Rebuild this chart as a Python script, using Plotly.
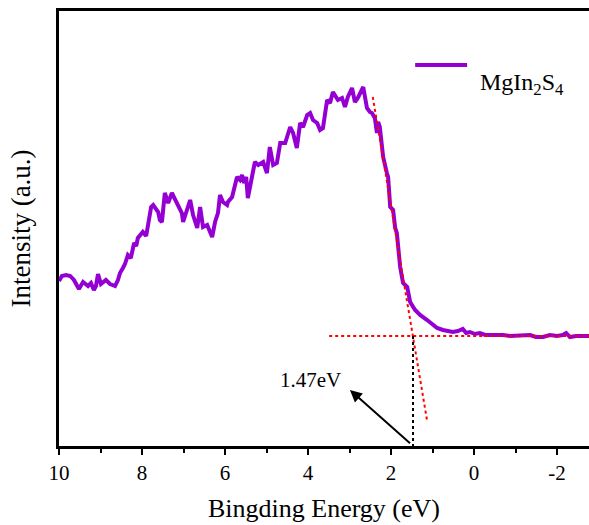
import plotly.graph_objects as go

# Binding energy (eV) and intensity (a.u.)
energy = [10.00, 9.93, 9.83, 9.73, 9.64, 9.52, 9.42, 9.35, 9.30, 9.23, 9.16, 9.11, 9.06, 8.99, 8.92,
          8.87, 8.77, 8.65, 8.58, 8.53, 8.46, 8.41, 8.34, 8.27, 8.19, 8.14, 8.10, 8.02, 7.98, 7.90,
          7.83, 7.78, 7.73, 7.69, 7.61, 7.57, 7.52, 7.45, 7.37, 7.28, 7.20, 7.13, 7.04, 7.01, 6.92,
          6.84, 6.77, 6.67, 6.60, 6.53, 6.43, 6.36, 6.31, 6.24, 6.17, 6.12, 6.05, 5.95, 5.93, 5.83,
          5.76, 5.71, 5.64, 5.59, 5.54, 5.49, 5.45, 5.35, 5.28, 5.20, 5.08, 4.99, 4.92, 4.84, 4.75,
          4.67, 4.55, 4.43, 4.36, 4.27, 4.19, 4.12, 4.02, 3.95, 3.88, 3.78, 3.71, 3.64, 3.54, 3.47,
          3.40, 3.28, 3.18, 3.11, 3.04, 2.94, 2.87, 2.80, 2.70, 2.67, 2.58, 2.51, 2.46, 2.39, 2.34,
          2.31, 2.27, 2.19, 2.10, 2.07, 2.02, 1.95, 1.90, 1.86, 1.78, 1.71, 1.61, 1.54, 1.42, 1.30,
          1.13, 0.99, 0.89, 0.75, 0.63, 0.51, 0.39, 0.27, 0.19, 0.10, -0.02, -0.14, -0.27, -0.39,
          -0.53, -0.70, -0.87, -1.04, -1.18, -1.35, -1.49, -1.66, -1.83, -2.00, -2.14, -2.22, -2.31,
          -2.46, -2.63, -2.77]
intensity = [165, 170, 171, 170, 166, 157, 164, 161, 160, 163, 156, 160, 172, 162, 165,
             166, 162, 160, 166, 173, 178, 182, 191, 188, 203, 200, 208, 212, 214, 210,
             226, 239, 241, 239, 234, 226, 224, 253, 243, 253, 246, 241, 233, 224, 236,
             246, 231, 218, 239, 219, 221, 214, 209, 224, 233, 251, 244, 241, 244, 249,
             259, 269, 266, 271, 263, 269, 248, 271, 284, 281, 284, 273, 299, 281, 283,
             303, 303, 319, 313, 298, 323, 319, 331, 333, 326, 323, 316, 318, 346, 343,
             354, 346, 348, 339, 349, 358, 344, 348, 356, 359, 338, 334, 333, 328, 313,
             324, 319, 289, 273, 269, 239, 236, 218, 213, 179, 163, 159, 144, 136, 131,
             126, 121, 118, 116, 115, 114, 115, 117, 113, 114, 112, 113, 111, 111,
             112, 111, 110, 110, 111, 111, 109, 109, 111, 110, 111, 113, 109,
             110, 110, 110]

# Linear fits (edge tangent and baseline) and the band-edge marker
tangent_x = [2.44, 1.13]
tangent_y = [349, 25]
baseline_x = [3.49, -2.80]
baseline_y = [110, 110]
edge_x = [1.47, 1.47]
edge_y = [110, 0]
edge_label = "1.47eV"
series_name = "MgIn<sub>2</sub>S<sub>4</sub>"

x_ticks = [10, 8, 6, 4, 2, 0, -2]
x_ticklabels = ["10", "8", "6", "4", "2", "0", "-2"]

FONT = '"Liberation Serif", "Times New Roman", serif'
PURPLE = "#9400D3"

fig = go.Figure()
fig.add_trace(go.Scatter(x=energy, y=intensity, mode="lines",
                         line=dict(color=PURPLE, width=4), name=series_name,
                         showlegend=False))
fig.add_trace(go.Scatter(x=tangent_x, y=tangent_y, mode="lines",
                         line=dict(color="red", width=2, dash="dot"), showlegend=False))
fig.add_trace(go.Scatter(x=baseline_x, y=baseline_y, mode="lines",
                         line=dict(color="red", width=2, dash="dot"), showlegend=False))
fig.add_trace(go.Scatter(x=edge_x, y=edge_y, mode="lines",
                         line=dict(color="black", width=2, dash="dot"), showlegend=False))

# arrow pointing from the edge position to the label
fig.add_annotation(x=2.99, y=56, ax=edge_x[0], ay=0, xref="x", yref="y",
                   axref="x", ayref="y", showarrow=True, arrowhead=2,
                   arrowsize=1.2, arrowwidth=2, arrowcolor="black", text=" ",
                   font=dict(size=10))
fig.add_annotation(x=3.93, y=66, xref="x", yref="y", text=edge_label,
                   showarrow=False, font=dict(family=FONT, size=21, color="black"))

# legend (manual)
fig.add_shape(type="line", xref="paper", yref="paper", x0=0.672, x1=0.770,
              y0=0.876, y1=0.876, line=dict(color=PURPLE, width=4))
fig.add_annotation(x=0.791, y=0.872, xref="paper", yref="paper", text=series_name,
                   showarrow=False, xanchor="left",
                   font=dict(family=FONT, size=24, color="black"))

fig.update_layout(
    width=589, height=525,
    margin=dict(l=59, r=0, t=11, b=79),
    paper_bgcolor="white", plot_bgcolor="white",
    font=dict(family=FONT, color="black", size=21),
    xaxis=dict(range=[10, -2.77], tickmode="array", tickvals=x_ticks,
               ticktext=x_ticklabels, ticks="outside", ticklen=6, tickwidth=2,
               tickcolor="black", showline=True, linewidth=2.5, linecolor="black",
               mirror=True, showgrid=False, zeroline=False,
               tickfont=dict(family=FONT, size=21),
               minor=dict(tickvals=[9, 7, 5, 3, 1, -1], ticks="outside",
                          ticklen=4, tickwidth=2, tickcolor="black"),
               title=dict(text="Bingding Energy (eV)", standoff=15,
                          font=dict(family=FONT, size=26))),
    yaxis=dict(range=[0, 435], showticklabels=False, ticks="", showline=True,
               linewidth=2.5, linecolor="black", showgrid=False, zeroline=False,
               title=dict(text="Intensity (a.u.)", standoff=18,
                          font=dict(family=FONT, size=27))),
)

fig.write_html("out.html", config={"displayModeBar": False},
               post_script="document.body.style.margin='0';document.body.style.overflow='hidden';")
